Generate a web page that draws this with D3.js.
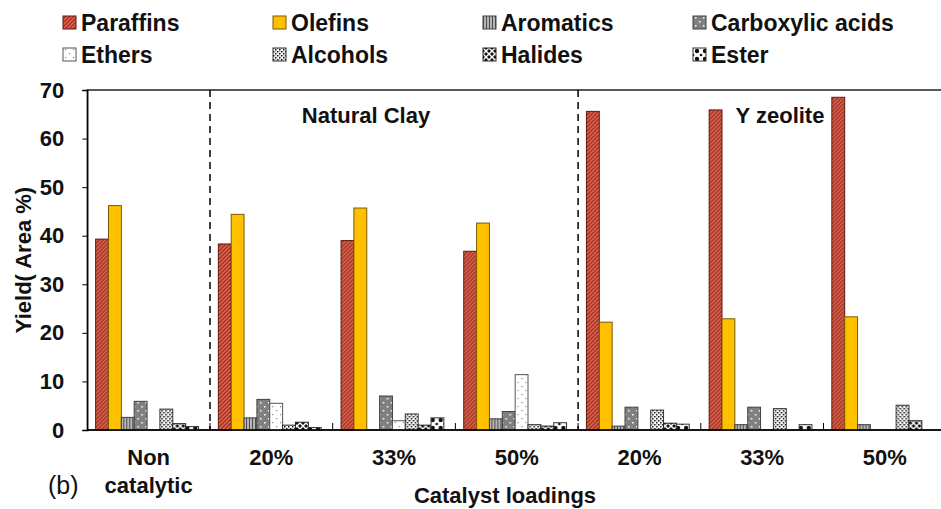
<!DOCTYPE html>
<html>
<head>
<meta charset="utf-8">
<script src="https://cdn.jsdelivr.net/npm/d3@7/dist/d3.min.js"></script>
<style>
  html, body { margin: 0; padding: 0; background: #fff; }
  svg { display: block; font-family: "Liberation Sans", Arial, sans-serif; }
</style>
</head>
<body>
<svg id="chart" width="941" height="509"></svg>
<script>
// Product distribution by catalyst loading
const groupLabels = [["Non", "catalytic"], ["20%"], ["33%"], ["50%"], ["20%"], ["33%"], ["50%"]];
const seriesNames = ["Paraffins", "Olefins", "Aromatics", "Carboxylic acids", "Ethers", "Alcohols", "Halides", "Ester"];

const paraffins   = [39.3, 38.3, 39.0, 36.8, 65.6, 65.9, 68.5];
const olefins     = [46.2, 44.4, 45.7, 42.6, 22.2, 22.9, 23.3];
const aromatics   = [2.6, 2.5, 0, 2.3, 0.8, 1.1, 1.1];
const carboxylic  = [5.9, 6.3, 7.0, 3.8, 4.7, 4.7, 0];
const ethers      = [0, 5.5, 1.9, 11.4, 0, 0, 0];
const alcohols    = [4.3, 1.0, 3.3, 1.1, 4.1, 4.4, 5.1];
const halides     = [1.3, 1.6, 1.0, 0.8, 1.4, 0, 1.9];
const ester       = [0.7, 0.5, 2.5, 1.5, 1.2, 1.1, 0];

const yTicks = [0, 10, 20, 30, 40, 50, 60, 70];
const sectionTitles = ["Natural Clay", "Y zeolite"];
const xTitle = "Catalyst loadings";
const yTitle = "Yield( Area %)";

const seriesValues = [paraffins, olefins, aromatics, carboxylic, ethers, alcohols, halides, ester];

(function draw() {
  const svg = d3.select("#chart");
  const defs = svg.append("defs");

  // ---- fill patterns ----
  function pat(id, w, h) {
    return defs.append("pattern").attr("id", id).attr("patternUnits", "userSpaceOnUse")
      .attr("width", w).attr("height", h);
  }
  // Paraffins: red with diagonal hatch
  {
    const p = pat("p-par", 4, 4);
    p.append("rect").attr("width", 4).attr("height", 4).attr("fill", "#e0614d");
    p.append("path").attr("d", "M-1,1 l2,-2 M0,4 l4,-4 M3,5 l2,-2").attr("stroke", "#8c2a1c").attr("stroke-width", 1.1);
  }
  // Aromatics: vertical stripes
  {
    const p = pat("p-aro", 3, 4);
    p.append("rect").attr("width", 3).attr("height", 4).attr("fill", "#b5b5b5");
    p.append("rect").attr("width", 1).attr("height", 4).attr("fill", "#4d4d4d");
  }
  // Carboxylic acids: dark grey with white dots
  {
    const p = pat("p-car", 8, 8);
    p.append("rect").attr("width", 8).attr("height", 8).attr("fill", "#808080");
    p.append("rect").attr("x", 2).attr("y", 2).attr("width", 1.5).attr("height", 1.5).attr("fill", "#fff");
    p.append("rect").attr("x", 6).attr("y", 6).attr("width", 1.5).attr("height", 1.5).attr("fill", "#fff");
  }
  // Ethers: white with sparse grey dots
  {
    const p = pat("p-eth", 8, 8);
    p.append("rect").attr("width", 8).attr("height", 8).attr("fill", "#fff");
    p.append("rect").attr("x", 2).attr("y", 2).attr("width", 1.2).attr("height", 1.2).attr("fill", "#8a8a8a");
    p.append("rect").attr("x", 6).attr("y", 6).attr("width", 1.2).attr("height", 1.2).attr("fill", "#8a8a8a");
  }
  // Alcohols: dense speckle
  {
    const p = pat("p-alc", 4, 4);
    p.append("rect").attr("width", 4).attr("height", 4).attr("fill", "#fff");
    p.append("rect").attr("x", 0).attr("y", 0).attr("width", 1.5).attr("height", 1.5).attr("fill", "#111");
    p.append("rect").attr("x", 2).attr("y", 2).attr("width", 1.5).attr("height", 1.5).attr("fill", "#111");
    p.append("rect").attr("x", 2.5).attr("y", 0.5).attr("width", 0.8).attr("height", 0.8).attr("fill", "#555");
  }
  // Halides: bold checker / diamond
  {
    const p = pat("p-hal", 6, 6);
    p.append("rect").attr("width", 6).attr("height", 6).attr("fill", "#fff");
    p.append("path").attr("d", "M0,0 L2,0 L0,2 Z M3,1 L5,3 L3,5 L1,3 Z M6,0 L6,2 L4,0 Z M0,6 L0,4 L2,6 Z M6,6 L4,6 L6,4 Z").attr("fill", "#111");
  }
  // Ester: white with black blobs
  {
    const p = pat("p-est", 8, 8);
    p.append("rect").attr("width", 8).attr("height", 8).attr("fill", "#fff");
    p.append("circle").attr("cx", 4).attr("cy", 4).attr("r", 2.2).attr("fill", "#111");
    p.append("circle").attr("cx", 0).attr("cy", 0).attr("r", 1.3).attr("fill", "#111");
    p.append("circle").attr("cx", 8).attr("cy", 0).attr("r", 1.3).attr("fill", "#111");
    p.append("circle").attr("cx", 0).attr("cy", 8).attr("r", 1.3).attr("fill", "#111");
    p.append("circle").attr("cx", 8).attr("cy", 8).attr("r", 1.3).attr("fill", "#111");
  }
  const fills = ["url(#p-par)", "#ffc000", "url(#p-aro)", "url(#p-car)", "url(#p-eth)", "url(#p-alc)", "url(#p-hal)", "url(#p-est)"];
  const strokes = ["#5a1a10", "#7a5a00", "#404040", "#404040", "#555", "#333", "#222", "#333"];

  // ---- layout ----
  const plotLeft = 87.3, plotTop = 90, bandW = 122.7;
  const plotRight = plotLeft + bandW * groupLabels.length;
  const plotBottom = 430;

  const x = d3.scaleBand().domain(d3.range(groupLabels.length)).range([plotLeft, plotRight]).paddingInner(0).paddingOuter(0);
  const sub = d3.scaleBand().domain(d3.range(seriesNames.length))
    .range([bandW * 0.068, bandW * 0.906]).paddingInner(0).paddingOuter(0);
  const y = d3.scaleLinear().domain([0, 70]).range([plotBottom, plotTop]);

  // plot frame
  svg.append("rect").attr("x", plotLeft).attr("y", plotTop).attr("width", plotRight - plotLeft).attr("height", plotBottom - plotTop)
    .attr("fill", "none").attr("stroke", "#000").attr("stroke-width", 1.3);

  // bars
  const groups = svg.append("g").selectAll("g").data(groupLabels).join("g")
    .attr("transform", (d, i) => `translate(${x(i)},0)`);
  groups.selectAll("rect")
    .data((d, gi) => seriesValues.map((vals, si) => ({ si, v: vals[gi] })).filter(d => d.v > 0))
    .join("rect")
    .attr("x", d => sub(d.si))
    .attr("width", sub.bandwidth())
    .attr("y", d => y(d.v))
    .attr("height", d => y(0) - y(d.v))
    .attr("fill", d => fills[d.si])
    .attr("stroke", d => strokes[d.si])
    .attr("stroke-width", 1);

  // section dividers
  [1, 4].forEach(i => {
    svg.append("line").attr("x1", x(i)).attr("x2", x(i)).attr("y1", plotTop).attr("y2", plotBottom)
      .attr("stroke", "#000").attr("stroke-width", 1.5).attr("stroke-dasharray", "7,5");
  });

  // y axis
  const yAxis = d3.axisLeft(y).tickValues(yTicks).tickSize(5).tickPadding(18);
  const gy = svg.append("g").attr("transform", `translate(${plotLeft},0)`).call(yAxis);
  gy.select(".domain").attr("stroke", "#000").attr("stroke-width", 1.3);
  gy.selectAll(".tick line").attr("stroke", "#000");
  gy.selectAll("text").attr("font-size", 22).attr("font-weight", "bold").attr("fill", "#111")
    .attr("font-family", "Liberation Sans, Arial, sans-serif");

  // x axis: inward ticks at category boundaries
  const gx = svg.append("g");
  gx.append("line").attr("x1", plotLeft).attr("x2", plotRight).attr("y1", plotBottom).attr("y2", plotBottom)
    .attr("stroke", "#000").attr("stroke-width", 1.6);
  gx.selectAll("line.tk").data(d3.range(1, groupLabels.length)).join("line").attr("class", "tk")
    .attr("x1", i => x(i)).attr("x2", i => x(i)).attr("y1", plotBottom).attr("y2", plotBottom - 7)
    .attr("stroke", "#000").attr("stroke-width", 1);

  // category labels
  groupLabels.forEach((lines, i) => {
    const cx = x(i) + x.bandwidth() / 2;
    const t = svg.append("text").attr("x", cx).attr("y", 465)
      .attr("text-anchor", "middle").attr("font-size", 22).attr("font-weight", "bold").attr("fill", "#111");
    lines.forEach((ln, k) => t.append("tspan").attr("x", cx).attr("dy", k === 0 ? 0 : 28).text(ln));
  });

  svg.append("text").attr("x", 48).attr("y", 494).attr("font-size", 25).attr("fill", "#111").text("(b)");

  svg.append("text").attr("x", 505).attr("y", 503).attr("text-anchor", "middle")
    .attr("font-size", 22).attr("font-weight", "bold").attr("fill", "#111").text(xTitle);

  svg.append("text").attr("transform", "translate(31,260) rotate(-90)").attr("text-anchor", "middle")
    .attr("font-size", 22).attr("font-weight", "bold").attr("fill", "#111").text(yTitle);

  // section titles
  svg.append("text").attr("x", 366).attr("y", 123).attr("text-anchor", "middle")
    .attr("font-size", 22).attr("font-weight", "bold").attr("fill", "#111").text(sectionTitles[0]);
  svg.append("text").attr("x", 780).attr("y", 123).attr("text-anchor", "middle")
    .attr("font-size", 22).attr("font-weight", "bold").attr("fill", "#111").text(sectionTitles[1]);

  // legend
  const legCols = [63, 273, 483, 693], legRows = [31, 63];
  const leg = svg.append("g").selectAll("g").data(seriesNames).join("g")
    .attr("transform", (d, i) => `translate(${legCols[i % 4]},${legRows[Math.floor(i / 4)]})`);
  leg.append("rect").attr("x", 0).attr("y", -15).attr("width", 13).attr("height", 13)
    .attr("fill", (d, i) => fills[i]).attr("stroke", (d, i) => strokes[i]).attr("stroke-width", 1);
  leg.append("text").attr("x", 18).attr("y", 0).attr("font-size", 23).attr("font-weight", "bold")
    .attr("fill", "#111").text(d => d);
})();
</script>
</body>
</html>
